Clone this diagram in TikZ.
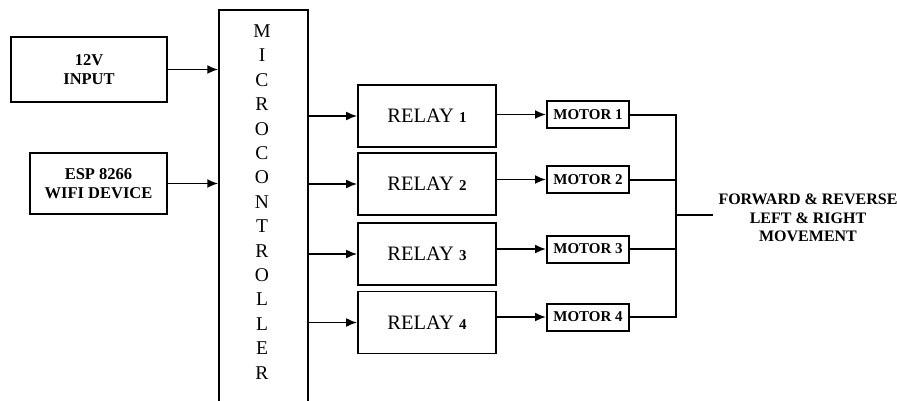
\documentclass[tikz,border=0pt]{standalone}
\usepackage{fontspec}
\setmainfont{Liberation Serif}
\usetikzlibrary{arrows.meta}
\begin{document}
\begin{tikzpicture}[x=1pt,y=-1pt,
  box/.style={draw, line width=1.8pt, inner sep=0pt, align=center},
  inbox/.style={box, font=\bfseries\fontsize{16.5}{19}\selectfont},
  relaybox/.style={box, minimum width=138pt, minimum height=62pt, font=\fontsize{20.5}{20.5}\selectfont},
  motorbox/.style={box, line width=2pt, minimum width=82pt, minimum height=27pt, font=\bfseries\fontsize{15}{15}\selectfont},
  arr/.style={-{Latex[length=11pt,width=9pt]}, line width=1.8pt},
  wire/.style={line width=2pt},
  lbl/.style={font=\bfseries\fontsize{16}{18.5}\selectfont, align=center}]
\clip (0,0) rectangle (897,400);
\fill[white] (0,0) rectangle (897,400);
% inputs
\node[inbox, minimum width=156pt, minimum height=65pt] (in12) at (89,69.5) {12V\\INPUT};
\node[inbox, minimum width=137pt, minimum height=61pt] (esp) at (98.5,183.5) {ESP 8266\\WIFI DEVICE};
% microcontroller
\node[draw, line width=1.5pt, minimum width=89pt, minimum height=394pt, inner sep=0pt] (mc) at (263.5,207) {};
\node[font=\fontsize{19.5}{24.4}\selectfont, align=center, inner sep=0pt] (mctext) at (262,202)
  {M\\I\\C\\R\\O\\C\\O\\N\\T\\R\\O\\L\\L\\E\\R};
% relays
\newcommand{\rnum}[1]{{\bfseries\fontsize{15}{15}\selectfont #1}}
\node[relaybox] (r1) at (427,116) {RELAY \rnum{1}};
\node[relaybox] (r2) at (427,184) {RELAY \rnum{2}};
\node[relaybox] (r3) at (427,254) {RELAY \rnum{3}};
\node[relaybox] (r4) at (427,322.5) {RELAY \rnum{4}};
% motors
\node[motorbox] (m1) at (588,114.5) {MOTOR 1};
\node[motorbox] (m2) at (588,179.5) {MOTOR 2};
\node[motorbox] (m3) at (588,249) {MOTOR 3};
\node[motorbox] (m4) at (588,317) {MOTOR 4};
% output label
\node[lbl] (outlbl) at (808,218) {FORWARD \& REVERSE\\LEFT \& RIGHT\\MOVEMENT};
% arrows in
\draw[arr] (in12.east) -- (in12.east -| mc.west);
\draw[arr] (esp.east) -- (esp.east -| mc.west);
% arrows mc -> relays
\foreach \r in {r1,r2,r3,r4} {
  \draw[arr] (\r.west -| mc.east) -- (\r.west);
}
% relays -> motors
\foreach \i in {1,2,3,4} {
  \draw[arr] (r\i.east |- m\i.west) -- (m\i.west);
}
% bus
\coordinate (jt) at (676,114.5);
\coordinate (jb) at (676,317);
\coordinate (jm) at (676,215);
\coordinate (jo) at (713,215);
\draw[wire] (m1.east) -- (jt) -- (jb) -- (m4.east);
\draw[wire] (m2.east) -- (m2.east -| jt);
\draw[wire] (m3.east) -- (m3.east -| jt);
\draw[wire] (jm) -- (jo);
\end{tikzpicture}
\end{document}
